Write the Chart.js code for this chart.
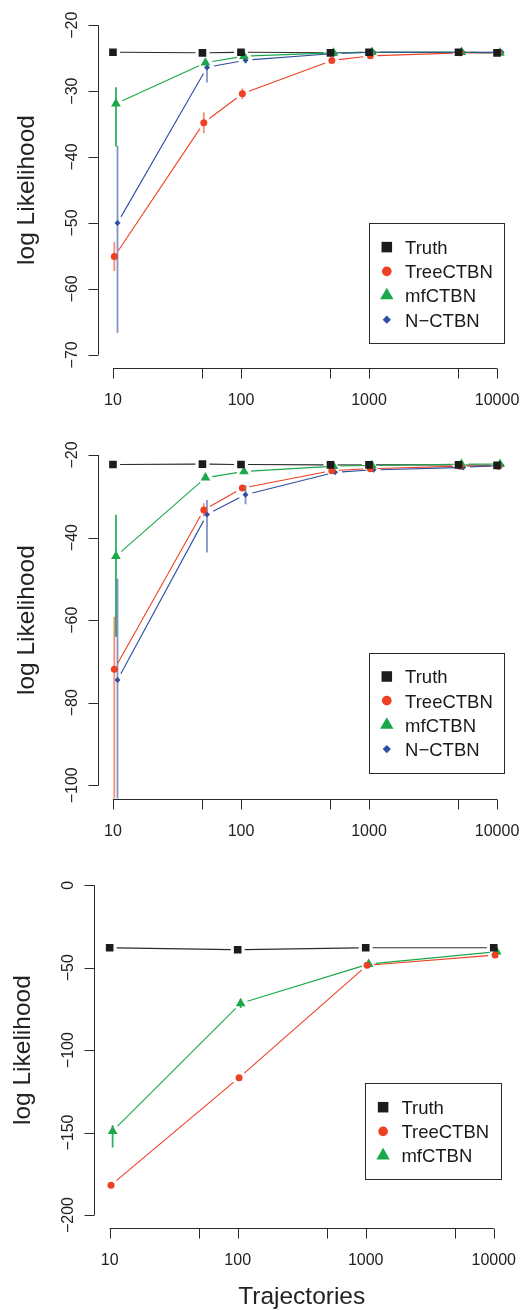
<!DOCTYPE html>
<html>
<head>
<meta charset="utf-8">
<script src="https://cdn.jsdelivr.net/npm/chart.js@4.4.1/dist/chart.umd.min.js"></script>
<style>
  body { margin: 0; background: #fff; width: 524px; height: 1310px; position: relative; overflow: hidden; }
  canvas { position: absolute; left: 0; }
</style>
</head>
<body>
<canvas id="llPanel1" width="524" height="420" style="top:0px"></canvas>
<canvas id="llPanel2" width="524" height="420" style="top:420px"></canvas>
<canvas id="llPanel3" width="524" height="470" style="top:840px"></canvas>
<script>
// number of training trajectories
const trajectories = [10, 50, 100, 500, 1000, 5000, 10000];
const trajectoriesBig = [10, 100, 1000, 10000];
const xTickValues = [10, 50, 100, 500, 1000, 5000, 10000];
const xTickLabels = ['10', '', '100', '', '1000', '', '10000'];

// network 1
const truth1 = [-24.1, -24.2, -24.1, -24.2, -24.1, -24.1, -24.2];
const tree1 = [-55.1, -34.8, -30.4, -25.35, -24.65, -24.2, -24.2];
const tree1Low = [-57.3, -36.4, -31.2, null, null, null, null];
const tree1High = [-52.9, -33.2, -29.6, null, null, null, null];
const mf1 = [-31.9, -25.7, -24.7, -24.2, -24.1, -24.1, -24.2];
const mf1Low = [-38.4, null, null, null, null, null, null];
const mf1High = [-29.4, null, null, null, null, null, null];
const nctbn1 = [-50.0, -26.4, -25.3, -24.3, -24.1, -24.1, -24.1];
const nctbn1Low = [-66.7, -28.7, -25.8, null, null, null, null];
const nctbn1High = [-38.3, -25.5, -24.4, null, null, null, null];
const yTicks1 = [-20, -30, -40, -50, -60, -70];

// network 2
const truth2 = [-22.3, -22.2, -22.3, -22.4, -22.4, -22.4, -22.5];
const tree2 = [-71.9, -33.3, -28.0, -23.8, -23.3, -22.7, -22.7];
const tree2Low = [-110, -34.9, null, null, null, null, null];
const tree2High = [-59.2, -31.7, null, null, null, null, null];
const mf2 = [-44.5, -25.5, -24.0, -22.7, -22.5, -22.2, -22.2];
const mf2Low = [-64.0, null, null, null, null, null, null];
const mf2High = [-34.5, null, null, null, null, null, null];
const nctbn2 = [-74.5, -34.4, -29.6, -24.2, -23.6, -23.0, -22.5];
const nctbn2Low = [-110, -43.6, -31.9, null, null, null, null];
const nctbn2High = [-49.9, -30.9, -27.3, null, null, null, null];
const yTicks2 = [-20, -40, -60, -80, -100];

// network 3 (no N-CTBN run)
const truth3 = [-37.9, -39.1, -37.9, -37.9];
const truth3Low = [-39.4, -40.6, null, null];
const truth3High = [-36.4, -37.6, null, null];
const tree3 = [-181.9, -116.7, -48.5, -42.3];
const mf3 = [-149.1, -71.6, -47.8, -40.3];
const mf3Low = [-159.0, -74.5, null, null];
const mf3High = [-145.5, -69.0, null, null];
const yTicks3 = [0, -50, -100, -150, -200];

const FONT = '"Liberation Sans", Arial, Helvetica, sans-serif';

// look of each method (marker, colours, small x shift so bars don't overlap)
const methodStyle = {
  'Truth':    { color: '#1c1c1c', line: '#2b2b2b', err: 'rgba(40,40,40,0.7)',  point: 'rect',     r: 5.4, shift: 1.0 },
  'TreeCTBN': { color: '#ee4124', line: '#ee4124', err: 'rgba(238,65,36,0.6)', point: 'circle',   r: 3.5, shift: 1.025 },
  'mfCTBN':   { color: '#1aa84a', line: '#1aa84a', err: 'rgba(26,168,74,0.9)', point: 'triangle', r: 5.6, shift: 1.055 },
  'N-CTBN':   { color: '#2e4ea2', line: '#2e4ea2', err: 'rgba(46,78,162,0.6)', point: 'rectRot',  r: 3.0, shift: 1.085 }
};

function series(label, xs, ys, low, high) {
  const st = methodStyle[label];
  return {
    label: label,
    data: xs.map((x, i) => ({ x: x * st.shift, y: ys[i] })),
    errLow: low || [],
    errHigh: high || [],
    lineColor: st.line,
    errColor: st.err,
    pointStyle: st.point,
    pointRadius: st.r,
    pointBackgroundColor: st.color,
    pointBorderWidth: 0,
    showLine: false
  };
}

// error bars, drawn under the markers and clipped to the plot region
const errorBars = {
  id: 'errorBars',
  beforeDatasetsDraw(chart) {
    const { ctx, chartArea: a, scales: { y } } = chart;
    ctx.save();
    ctx.beginPath();
    ctx.rect(a.left, a.top, a.right - a.left, a.bottom - a.top);
    ctx.clip();
    ctx.lineWidth = 1.8;
    chart.data.datasets.forEach((ds, di) => {
      const meta = chart.getDatasetMeta(di);
      ctx.strokeStyle = ds.errColor;
      meta.data.forEach((pt, i) => {
        if (ds.errLow[i] == null) return;
        ctx.beginPath();
        ctx.moveTo(pt.x, y.getPixelForValue(ds.errLow[i]));
        ctx.lineTo(pt.x, y.getPixelForValue(ds.errHigh[i]));
        ctx.stroke();
      });
    });
    ctx.restore();
  }
};

// connecting lines that stop short of each marker
const gapLines = {
  id: 'gapLines',
  beforeDatasetsDraw(chart) {
    const ctx = chart.ctx;
    const gap = 7;
    ctx.save();
    ctx.lineWidth = 1.1;
    chart.data.datasets.forEach((ds, di) => {
      const pts = chart.getDatasetMeta(di).data;
      ctx.strokeStyle = ds.lineColor;
      for (let i = 1; i < pts.length; i++) {
        const p0 = pts[i - 1], p1 = pts[i];
        const dx = p1.x - p0.x, dy = p1.y - p0.y;
        const len = Math.hypot(dx, dy);
        if (len <= 2 * gap + 2) continue;
        const ux = dx / len, uy = dy / len;
        ctx.beginPath();
        ctx.moveTo(p0.x + ux * gap, p0.y + uy * gap);
        ctx.lineTo(p1.x - ux * gap, p1.y - uy * gap);
        ctx.stroke();
      }
    });
    ctx.restore();
  }
};

// base-graphics style axes: detached lines spanning first..last tick
const rAxes = {
  id: 'rAxes',
  afterDraw(chart, args, opts) {
    const { ctx, chartArea: a, scales: { x, y } } = chart;
    const minus = v => String(v).replace('-', '\u2212');
    ctx.save();
    ctx.strokeStyle = '#2a2a2a';
    ctx.fillStyle = '#222';
    ctx.lineWidth = 1;

    // y axis
    const ax = Math.round(a.left) + 0.5;
    const yt = opts.yTicks;
    ctx.beginPath();
    ctx.moveTo(ax, y.getPixelForValue(yt[0]));
    ctx.lineTo(ax, y.getPixelForValue(yt[yt.length - 1]));
    yt.forEach(v => {
      const py = Math.round(y.getPixelForValue(v)) + 0.5;
      ctx.moveTo(ax - 10, py);
      ctx.lineTo(ax, py);
    });
    ctx.stroke();
    ctx.font = '16px ' + FONT;
    ctx.textAlign = 'center';
    ctx.textBaseline = 'alphabetic';
    yt.forEach(v => {
      ctx.save();
      ctx.translate(ax - 22, y.getPixelForValue(v));
      ctx.rotate(-Math.PI / 2);
      ctx.fillText(minus(v), 0, 0);
      ctx.restore();
    });

    // x axis
    const ay = Math.round(a.bottom) + 0.5;
    ctx.beginPath();
    ctx.moveTo(x.getPixelForValue(xTickValues[0]), ay);
    ctx.lineTo(x.getPixelForValue(xTickValues[xTickValues.length - 1]), ay);
    xTickValues.forEach(v => {
      const px = Math.round(x.getPixelForValue(v)) + 0.5;
      ctx.moveTo(px, ay);
      ctx.lineTo(px, ay + 10);
    });
    ctx.stroke();
    xTickValues.forEach((v, i) => {
      if (xTickLabels[i]) ctx.fillText(xTickLabels[i], x.getPixelForValue(v), a.bottom + 37);
    });

    // titles
    ctx.font = '24.5px ' + FONT;
    ctx.save();
    ctx.translate(a.left - 64, (a.top + a.bottom) / 2);
    ctx.rotate(-Math.PI / 2);
    ctx.fillText(opts.yTitle, 0, 0);
    ctx.restore();
    if (opts.xTitle) {
      ctx.fillText(opts.xTitle, (a.left + a.right) / 2, a.bottom + 76);
    }
    ctx.restore();
  }
};

// boxed legend in the lower right of the plot region
const boxLegend = {
  id: 'boxLegend',
  afterDraw(chart, args, opts) {
    const { ctx, chartArea: a } = chart;
    const items = chart.data.datasets;
    const step = 24.2;
    const w = opts.width;
    const h = 24 + (items.length - 1) * step + 23.6;
    const right = a.right - 8;
    const bottom = a.bottom - opts.bottomInset;
    const left = right - w, top = bottom - h;
    ctx.save();
    ctx.strokeStyle = '#2a2a2a';
    ctx.lineWidth = 1;
    ctx.strokeRect(Math.round(left) + 0.5, Math.round(top) + 0.5, Math.round(w), Math.round(h));
    ctx.font = '18.5px ' + FONT;
    ctx.textAlign = 'left';
    ctx.textBaseline = 'alphabetic';
    items.forEach((ds, i) => {
      const cy = top + 24 + i * step;
      ctx.fillStyle = ds.pointBackgroundColor;
      Chart.helpers.drawPoint(ctx, {
        pointStyle: ds.pointStyle,
        radius: ds.pointRadius * 1.38,
        rotation: 0,
        borderWidth: 0
      }, left + 17.7, cy);
      ctx.fillStyle = '#1a1a1a';
      ctx.fillText(ds.label.replace('-', '\u2212'), left + 36, cy + 6.8);
    });
    ctx.restore();
  }
};

const logPad = Math.pow(10, 0.04 * 3);

function makePanel(id, datasets, yMin, yMax, yTicks, padding, legendOpts, xTitle) {
  return new Chart(document.getElementById(id), {
    type: 'scatter',
    data: { datasets: datasets },
    options: {
      responsive: false,
      animation: false,
      devicePixelRatio: 1,
      layout: { padding: padding },
      scales: {
        x: { type: 'logarithmic', min: 10 / logPad, max: 10000 * logPad, bounds: 'data', display: false },
        y: { type: 'linear', min: yMin, max: yMax, bounds: 'data', display: false }
      },
      plugins: {
        legend: { display: false },
        tooltip: { enabled: false },
        rAxes: { yTicks: yTicks, yTitle: 'log Likelihood', xTitle: xTitle },
        boxLegend: legendOpts
      }
    },
    plugins: [errorBars, gapLines, rAxes, boxLegend]
  });
}

makePanel('llPanel1', [
  series('Truth', trajectories, truth1),
  series('TreeCTBN', trajectories, tree1, tree1Low, tree1High),
  series('mfCTBN', trajectories, mf1, mf1Low, mf1High),
  series('N-CTBN', trajectories, nctbn1, nctbn1Low, nctbn1High)
], -72, -18, yTicks1, { left: 97.6, right: 11.6, top: 12, bottom: 52 },
  { width: 135.3, bottomInset: 24.7 });

makePanel('llPanel2', [
  series('Truth', trajectories, truth2),
  series('TreeCTBN', trajectories, tree2, tree2Low, tree2High),
  series('mfCTBN', trajectories, mf2, mf2Low, mf2High),
  series('N-CTBN', trajectories, nctbn2, nctbn2Low, nctbn2High)
], -103.2, -16.8, yTicks2, { left: 97.6, right: 11.6, top: 21.8, bottom: 41.5 },
  { width: 135.3, bottomInset: 25.8 });

makePanel('llPanel3', [
  series('Truth', trajectoriesBig, truth3, truth3Low, truth3High),
  series('TreeCTBN', trajectoriesBig, tree3),
  series('mfCTBN', trajectoriesBig, mf3, mf3Low, mf3High)
], -208, 8, yTicks3, { left: 94.3, right: 14.9, top: 32.1, bottom: 81.8 },
  { width: 135.7, bottomInset: 49 }, 'Trajectories');
</script>
</body>
</html>
